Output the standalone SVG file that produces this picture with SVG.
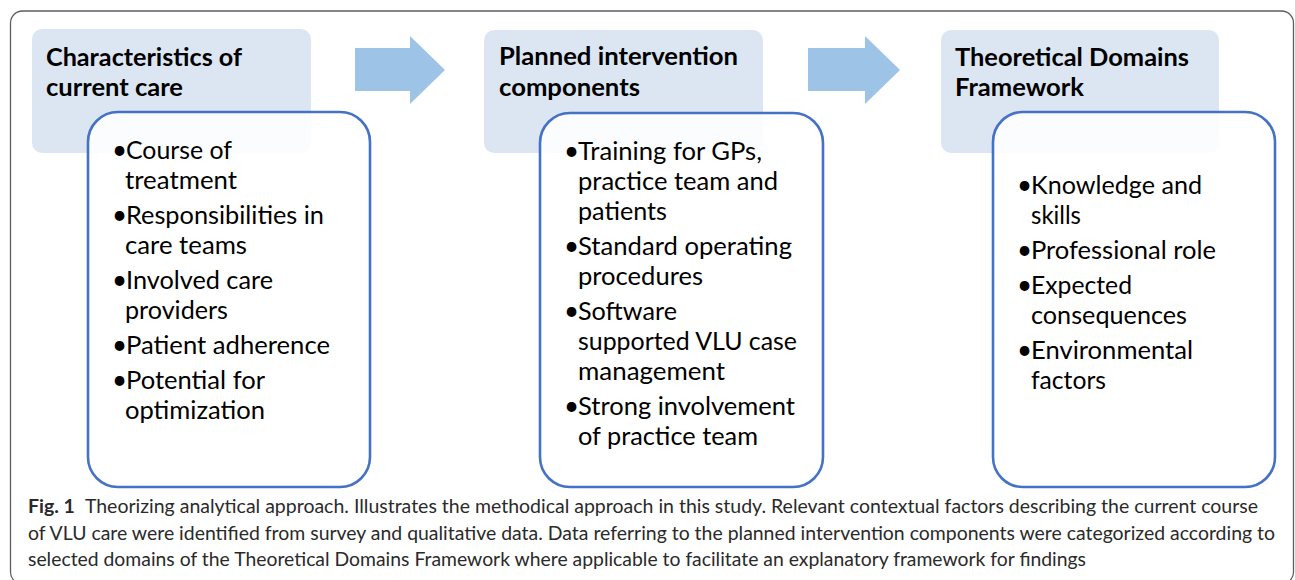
<svg xmlns="http://www.w3.org/2000/svg" width="1295" height="580" viewBox="0 0 1295 580">
  <style>
    .frame { fill: #ffffff; stroke: #5f5f5f; stroke-width: 1.3; }
    .head { fill: #dce6f2; }
    .list { fill: #ffffff; fill-opacity: 0.88; stroke: #4472c4; stroke-width: 2.6; }
    .flow { fill: #9dc3e6; }
    .ht { font-family: Lato, "Open Sans", sans-serif; font-weight: bold; font-size: 25px; fill: #000000; }
    .bt { font-family: Lato, "Open Sans", sans-serif; font-size: 25px; fill: #000000; }
    .bl { font-family: Lato, "Open Sans", sans-serif; font-size: 26px; fill: #000000; }
    .cap { font-family: Lato, "Open Sans", sans-serif; font-size: 19.5px; fill: #2a2a2a; }
    .capb { font-weight: bold; }
  </style>

  <!-- outer figure frame (bottom edge runs past the canvas) -->
  <rect class="frame" x="10.5" y="11" width="1283" height="573" rx="12"/>

  <!-- flow arrows between stages -->
  <g id="connectors">
    <path class="flow" d="M355,48 H410 V36 L445,70 L410,104 V91 H355 Z"/>
    <path class="flow" d="M808,48 H865 V36 L900,70 L865,104 V91 H808 Z"/>
  </g>

  <!-- stage 1 -->
  <g id="stage-current-care">
    <rect class="head" x="32" y="29" width="279" height="124" rx="10"/>
    <text class="ht" x="46" y="66" textLength="196" lengthAdjust="spacingAndGlyphs">Characteristics of</text>
    <text class="ht" x="46" y="96" textLength="137" lengthAdjust="spacingAndGlyphs">current care</text>
    <rect class="list" x="88" y="112" width="282" height="375" rx="30"/>
    <text class="bl" x="112" y="159">•</text>
    <text class="bt" x="126" y="159" textLength="106" lengthAdjust="spacingAndGlyphs">Course of</text>
    <text class="bt" x="125" y="189" textLength="112" lengthAdjust="spacingAndGlyphs">treatment</text>
    <text class="bl" x="112" y="224">•</text>
    <text class="bt" x="126" y="224" textLength="198" lengthAdjust="spacingAndGlyphs">Responsibilities in</text>
    <text class="bt" x="125" y="254" textLength="122" lengthAdjust="spacingAndGlyphs">care teams</text>
    <text class="bl" x="112" y="289">•</text>
    <text class="bt" x="126" y="289" textLength="147" lengthAdjust="spacingAndGlyphs">Involved care</text>
    <text class="bt" x="125" y="319" textLength="103" lengthAdjust="spacingAndGlyphs">providers</text>
    <text class="bl" x="112" y="354">•</text>
    <text class="bt" x="126" y="354" textLength="204" lengthAdjust="spacingAndGlyphs">Patient adherence</text>
    <text class="bl" x="112" y="389">•</text>
    <text class="bt" x="126" y="389" textLength="139" lengthAdjust="spacingAndGlyphs">Potential for</text>
    <text class="bt" x="125" y="419" textLength="140" lengthAdjust="spacingAndGlyphs">optimization</text>
  </g>

  <!-- stage 2 -->
  <g id="stage-intervention">
    <rect class="head" x="484" y="30" width="279" height="123" rx="10"/>
    <text class="ht" x="499" y="65" textLength="239" lengthAdjust="spacingAndGlyphs">Planned intervention</text>
    <text class="ht" x="499" y="96" textLength="141" lengthAdjust="spacingAndGlyphs">components</text>
    <rect class="list" x="540" y="113" width="283" height="374" rx="30"/>
    <text class="bl" x="564" y="160">•</text>
    <text class="bt" x="578" y="160" textLength="184" lengthAdjust="spacingAndGlyphs">Training for GPs,</text>
    <text class="bt" x="578" y="190" textLength="200" lengthAdjust="spacingAndGlyphs">practice team and</text>
    <text class="bt" x="578" y="220" textLength="89" lengthAdjust="spacingAndGlyphs">patients</text>
    <text class="bl" x="564" y="255">•</text>
    <text class="bt" x="578" y="255" textLength="214" lengthAdjust="spacingAndGlyphs">Standard operating</text>
    <text class="bt" x="578" y="285" textLength="125" lengthAdjust="spacingAndGlyphs">procedures</text>
    <text class="bl" x="564" y="320">•</text>
    <text class="bt" x="578" y="320" textLength="99" lengthAdjust="spacingAndGlyphs">Software</text>
    <text class="bt" x="578" y="350" textLength="219" lengthAdjust="spacingAndGlyphs">supported VLU case</text>
    <text class="bt" x="578" y="380" textLength="147" lengthAdjust="spacingAndGlyphs">management</text>
    <text class="bl" x="564" y="415">•</text>
    <text class="bt" x="578" y="415" textLength="217" lengthAdjust="spacingAndGlyphs">Strong involvement</text>
    <text class="bt" x="578" y="445" textLength="180" lengthAdjust="spacingAndGlyphs">of practice team</text>
  </g>

  <!-- stage 3 -->
  <g id="stage-tdf">
    <rect class="head" x="941" y="30" width="278" height="123" rx="10"/>
    <text class="ht" x="955" y="66" textLength="234" lengthAdjust="spacingAndGlyphs">Theoretical Domains</text>
    <text class="ht" x="955" y="96" textLength="129" lengthAdjust="spacingAndGlyphs">Framework</text>
    <rect class="list" x="993" y="112" width="282" height="375" rx="30"/>
    <text class="bl" x="1017" y="194">•</text>
    <text class="bt" x="1031" y="194" textLength="171" lengthAdjust="spacingAndGlyphs">Knowledge and</text>
    <text class="bt" x="1031" y="224" textLength="50" lengthAdjust="spacingAndGlyphs">skills</text>
    <text class="bl" x="1017" y="259">•</text>
    <text class="bt" x="1031" y="259" textLength="185" lengthAdjust="spacingAndGlyphs">Professional role</text>
    <text class="bl" x="1017" y="294">•</text>
    <text class="bt" x="1031" y="294" textLength="101" lengthAdjust="spacingAndGlyphs">Expected</text>
    <text class="bt" x="1031" y="324" textLength="156" lengthAdjust="spacingAndGlyphs">consequences</text>
    <text class="bl" x="1017" y="359">•</text>
    <text class="bt" x="1031" y="359" textLength="162" lengthAdjust="spacingAndGlyphs">Environmental</text>
    <text class="bt" x="1031" y="389" textLength="75" lengthAdjust="spacingAndGlyphs">factors</text>
  </g>

  <!-- figure caption -->
  <g id="caption">
    <text class="cap" x="28" y="513" textLength="1230" lengthAdjust="spacingAndGlyphs"><tspan class="capb">Fig. 1</tspan><tspan dx="10">Theorizing analytical approach. Illustrates the methodical approach in this study. Relevant contextual factors describing the current course</tspan></text>
    <text class="cap" x="28" y="540" textLength="1247" lengthAdjust="spacingAndGlyphs">of VLU care were identified from survey and qualitative data. Data referring to the planned intervention components were categorized according to</text>
    <text class="cap" x="28" y="566" textLength="1058" lengthAdjust="spacingAndGlyphs">selected domains of the Theoretical Domains Framework where applicable to facilitate an explanatory framework for findings</text>
  </g>
</svg>
